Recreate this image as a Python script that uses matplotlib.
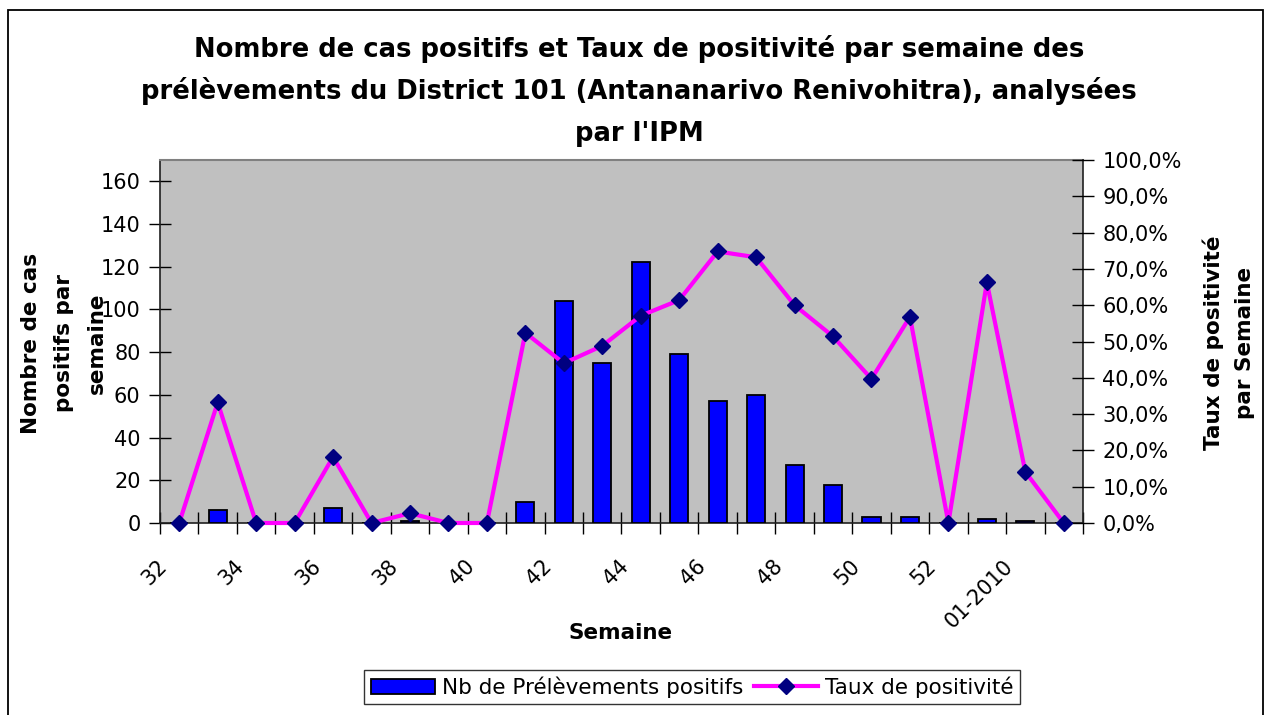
import matplotlib
matplotlib.use("Agg")
import matplotlib.pyplot as plt
import numpy as np
from matplotlib.patches import Rectangle
from matplotlib.transforms import ScaledTranslation
from matplotlib.ticker import FixedLocator, FuncFormatter

plt.rcParams['font.family'] = ['DejaVu Sans']

# ---------------- data ----------------
weeks = ["32", "33", "34", "35", "36", "37", "38", "39", "40", "41", "42", "43",
         "44", "45", "46", "47", "48", "49", "50", "51", "52", "53", "01-2010", "02-2010"]
nb_positifs = [0, 6, 0, 0, 7, 0, 1, 0, 0, 10, 104, 75,
               122, 79, 57, 60, 27, 18, 3, 3, 0, 2, 1, 0]
taux_positivite = [0.0, 0.332, 0.0, 0.0, 0.182, 0.0, 0.027, 0.0, 0.0, 0.524, 0.440, 0.488,
                   0.571, 0.614, 0.748, 0.732, 0.600, 0.514, 0.397, 0.568, 0.0, 0.663, 0.141, 0.0]

title_lines = ["Nombre de cas positifs et Taux de positivité par semaine des",
               "prélèvements du District 101 (Antananarivo Renivohitra), analysées",
               "par l'IPM"]
left_label = "Nombre de cas\npositifs par\nsemaine"
right_label = "Taux de positivité\npar Semaine"
x_label = "Semaine"
legend_labels = ["Nb de Prélèvements positifs", "Taux de positivité"]

# ---------------- figure ----------------
W, H = 1269, 715
fig = plt.figure(figsize=(W / 100, H / 100), dpi=100)
fig.patch.set_facecolor('white')

# outer chart border
fig.patches.append(Rectangle((8 / W, -0.02), (1263 - 8) / W, 1 - 10 / H + 0.02,
                             transform=fig.transFigure, fill=False,
                             edgecolor='black', linewidth=1.3, zorder=0))

ax = fig.add_axes([160 / W, 1 - 523 / H, (1083 - 160) / W, (523 - 160) / H])
ax.set_facecolor('#C0C0C0')

n = len(weeks)
x = np.arange(n)
bars = ax.bar(x, nb_positifs, width=0.47, color='#0000FF', edgecolor='black',
              linewidth=1.3, zorder=3)
ax.set_xlim(-0.5, n - 0.5)
ax.set_ylim(0, 170)
ax.set_yticks(np.arange(0, 161, 20))
ax.tick_params(axis='y', which='major', direction='inout', length=16, width=1,
               labelsize=15, pad=6, colors='black')

# x ticks: labels every other category, tick marks on category boundaries
ax.set_xticks(x[::2])
ax.set_xticklabels(weeks[::2])
ax.xaxis.set_minor_locator(FixedLocator(np.arange(-0.5, n, 1.0)))
ax.tick_params(axis='x', which='major', length=0, labelsize=15, pad=24)
ax.tick_params(axis='x', which='minor', direction='inout', length=16, width=1)
for lab in ax.get_xticklabels():
    lab.set_rotation(45)
    lab.set_ha('right')
    lab.set_va('top')
    lab.set_transform(lab.get_transform() + ScaledTranslation(-0.08, 0, fig.dpi_scale_trans))

for s in ['left', 'bottom', 'right']:
    ax.spines[s].set_color('#202020')
    ax.spines[s].set_linewidth(1.2)
ax.spines['top'].set_color('#808080')
ax.spines['top'].set_linewidth(1.5)

ax2 = ax.twinx()
ax2.set_ylim(0, 1)
ax2.set_yticks(np.arange(0, 1.0001, 0.1))
ax2.yaxis.set_major_formatter(FuncFormatter(lambda v, p: ("%.1f%%" % (v * 100)).replace('.', ',')))
ax2.tick_params(axis='y', direction='inout', length=16, width=1, labelsize=15, pad=6)
line, = ax2.plot(x, taux_positivite, color='#FF00FF', linewidth=3, marker='D',
                 markersize=8.5, markerfacecolor='#000080', markeredgecolor='#000080',
                 clip_on=False, zorder=5)
for s in ['left', 'bottom', 'right', 'top']:
    ax2.spines[s].set_visible(False)
ax.spines['right'].set_zorder(10)

# titles and labels
for i, t in enumerate(title_lines):
    fig.text(639 / W, 1 - (57 + 42 * i) / H, t, ha='center', va='baseline',
             fontsize=18.6, fontweight='bold')

fig.text(64 / W, 1 - 343 / H, left_label, rotation=90, ha='center', va='center',
         multialignment='center', fontsize=15.5, fontweight='bold', linespacing=1.8)
fig.text(1228.5 / W, 1 - 343 / H, right_label, rotation=90, ha='center', va='center',
         multialignment='center', fontsize=15.5, fontweight='bold', linespacing=1.7)
fig.text(621 / W, 1 - 633 / H, x_label, ha='center', va='center',
         fontsize=15.5, fontweight='bold')

leg = fig.legend([bars, line], legend_labels, loc='center', ncol=2,
                 bbox_to_anchor=(692 / W, 1 - 687 / H), frameon=True, fancybox=False,
                 edgecolor='black', fontsize=15.5, handlelength=3.0, handletextpad=0.3,
                 columnspacing=0.5, borderpad=0.3, borderaxespad=0)
leg.get_frame().set_linewidth(1.0)

fig.savefig('out.png', dpi=100)
